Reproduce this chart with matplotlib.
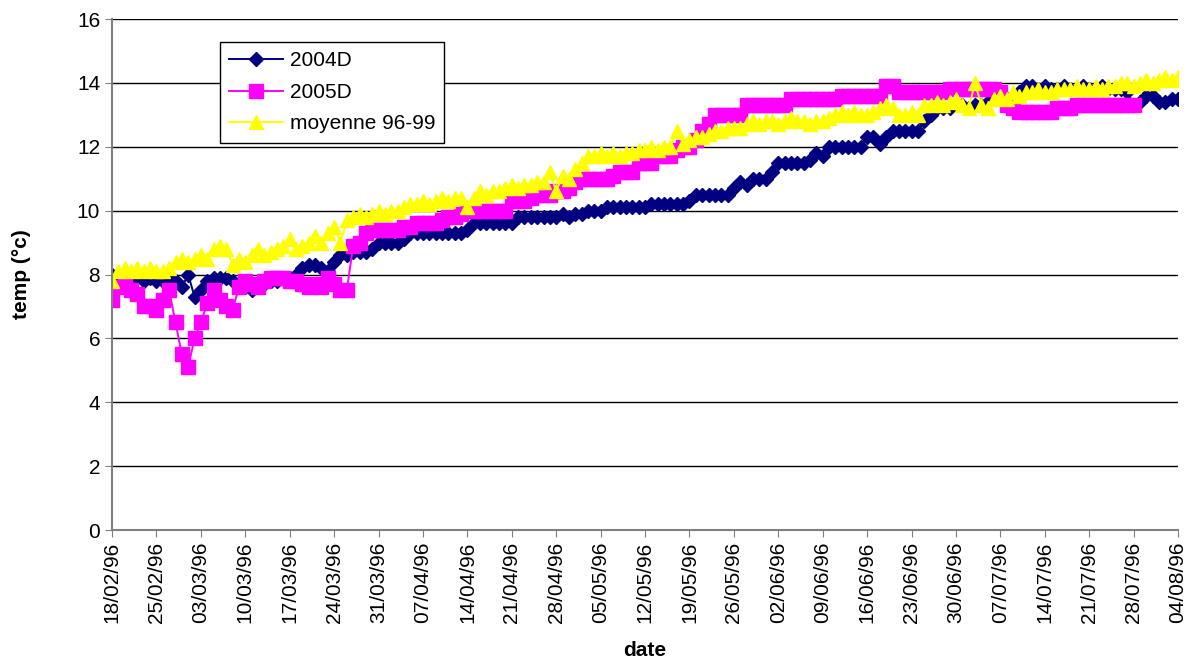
import numpy as np
import matplotlib
matplotlib.use('Agg')
from matplotlib import pyplot as plt
import matplotlib.dates as mdates

# daily water temperatures, starting 18/02/96
start = np.datetime64('1996-02-18')

t2004 = [8.0, 7.9, 7.9, 7.8, 7.9, 7.8, 7.9, 7.8, 7.8, 7.9, 7.8, 7.6, 8.0, 7.3, 7.5, 7.8,
         7.9, 7.9, 7.9, 7.8, 7.7, 7.6, 7.5, 7.6, 7.7, 7.8, 7.8, 7.9, 7.9, 8.0, 8.2, 8.3,
         8.3, 8.2, 8.1, 8.4, 8.6, 8.6, 8.7, 8.7, 8.7, 8.8, 9.0, 9.0, 9.0, 9.0, 9.1,
         9.3, 9.3, 9.3, 9.3, 9.3, 9.3, 9.3, 9.3, 9.3, 9.4,
         9.6, 9.6, 9.6, 9.6, 9.6, 9.6, 9.6,
         9.8, 9.8, 9.8, 9.8, 9.8, 9.8, 9.8, 9.9, 9.8, 9.9, 9.9, 10.0, 10.0, 10.0,
         10.1, 10.1, 10.1, 10.1, 10.1, 10.1, 10.1,
         10.2, 10.2, 10.2, 10.2, 10.2, 10.2, 10.3,
         10.5, 10.5, 10.5, 10.5, 10.5, 10.5, 10.7, 10.9, 10.8, 11.0, 11.0, 11.0, 11.2,
         11.5, 11.5, 11.5, 11.5, 11.5, 11.6, 11.8, 11.7,
         12.0, 12.0, 12.0, 12.0, 12.0, 12.0, 12.3, 12.3, 12.1, 12.3,
         12.5, 12.5, 12.5, 12.5, 12.5, 12.8, 13.0, 13.2,
         13.2, 13.2, 13.3, 13.3, 13.2, 13.3, 13.3, 13.4, 13.5, 13.5, 13.5, 13.6, 13.7,
         13.9, 13.9,
         13.8, 13.9, 13.8, 13.8, 13.9, 13.8, 13.8, 13.9, 13.8, 13.8, 13.9, 13.8, 13.8, 13.8,
         13.7, 13.3, 13.4, 13.6, 13.6, 13.4, 13.4, 13.5, 13.5]

t2005 = [7.2, 7.6, 7.7, 7.5, 7.4, 7.0, 7.0, 6.9, 7.2, 7.5, 6.5, 5.5, 5.1, 6.0, 6.5, 7.1,
         7.5, 7.2, 7.0, 6.9, 7.6, 7.8, 7.7, 7.6, 7.8, 7.9, 7.9, 7.9, 7.8, 7.8, 7.7, 7.6,
         7.7, 7.6, 7.9, 7.7, 7.5, 7.5,
         8.9, 9.0, 9.3, 9.4, 9.4, 9.4, 9.4, 9.4, 9.5, 9.5, 9.6, 9.6, 9.6, 9.6, 9.7, 9.8,
         9.8, 9.9, 10.0, 10.0, 10.0, 10.0, 10.0, 10.0, 10.0, 10.3, 10.3, 10.3, 10.4, 10.5,
         10.5, 10.5, 10.6, 10.6, 10.7, 10.9, 11.0, 11.0, 11.0, 11.0, 11.0, 11.1, 11.2, 11.2,
         11.2, 11.5, 11.5, 11.5, 11.7, 11.7, 11.7, 11.9, 12.0, 12.0, 12.2, 12.5, 12.7,
         13.0, 13.0, 13.0, 13.0, 13.0, 13.3, 13.3, 13.3, 13.3, 13.3, 13.3, 13.3,
         13.5, 13.5, 13.5, 13.5, 13.5, 13.5, 13.5, 13.5,
         13.6, 13.6, 13.6, 13.6, 13.6, 13.6, 13.6, 13.9, 13.9,
         13.7, 13.7, 13.7, 13.7, 13.7, 13.7, 13.7, 13.7,
         13.8, 13.8, 13.8, 13.8, 13.8, 13.8, 13.8, 13.8, 13.7, 13.3, 13.2,
         13.1, 13.1, 13.1, 13.1, 13.1, 13.1, 13.2, 13.2, 13.2,
         13.3, 13.3, 13.3, 13.3, 13.3, 13.3, 13.3, 13.3, 13.3, 13.3]

tmoy = [7.8, 8.1, 8.2, 8.1, 8.2, 8.1, 8.2, 8.1, 8.1, 8.2, 8.4, 8.5, 8.4, 8.5, 8.6, 8.5,
        8.8, 8.9, 8.8, 8.3, 8.5, 8.4, 8.6, 8.8, 8.6, 8.7, 8.8, 8.9, 9.1, 8.8, 8.9, 9.0,
        9.2, 9.0, 9.3, 9.5, 9.0, 9.7, 9.8, 9.9, 9.8, 9.9, 10.0, 9.9, 10.0, 10.0, 10.1,
        10.2, 10.2, 10.3, 10.2, 10.3, 10.4, 10.3, 10.4, 10.4, 10.1, 10.4, 10.6, 10.5,
        10.6, 10.6, 10.7, 10.8, 10.7, 10.8, 10.8, 10.9, 10.9, 11.2, 10.6, 11.1, 11.0,
        11.3, 11.5, 11.7, 11.7, 11.8, 11.7, 11.8, 11.7, 11.8, 11.8, 11.9, 11.9, 12.0,
        11.9, 12.0, 12.0, 12.5, 12.1, 12.2, 12.3, 12.3, 12.4, 12.5, 12.5, 12.6, 12.6,
        12.6, 12.7, 12.8, 12.7, 12.8, 12.8, 12.7, 12.8, 12.9, 12.8, 12.8, 12.7, 12.8,
        12.8, 12.9, 13.0, 13.1, 13.0, 13.1, 13.0, 13.0, 13.1, 13.2, 13.3, 13.2, 13.0,
        13.0, 13.1, 13.0, 13.3, 13.3, 13.4, 13.3, 13.4, 13.5, 13.3, 13.2, 14.0, 13.3,
        13.2, 13.5, 13.6, 13.5, 13.7, 13.6, 13.7, 13.7, 13.8, 13.7, 13.7, 13.8, 13.8,
        13.8, 13.9, 13.8, 13.8, 13.9, 13.8, 13.9, 13.9, 14.0, 14.0, 13.9, 14.0, 14.1,
        14.0, 14.1, 14.2, 14.1, 14.2]

def days(n):
    return (start + np.arange(n)).astype('datetime64[D]').astype(object)

plt.rcParams['font.family'] = ['Liberation Sans', 'DejaVu Sans']

fig = plt.figure(figsize=(11.92, 6.63), dpi=100)
ax = fig.add_axes([0.094, 0.2006, 0.8943, 0.7707])

ax.plot(days(len(t2004)), t2004, color='#000080', marker='D', markersize=7, lw=1.4, label='2004D')
ax.plot(days(len(t2005)), t2005, color='#FF00FF', marker='s', markersize=10, lw=1.4, label='2005D')
ax.plot(days(len(tmoy)), tmoy, color='#FFFF00', marker='^', markersize=10.5, lw=1.4,
        label='moyenne 96-99')

ax.set_ylim(0, 16)
ax.set_yticks(np.arange(0, 17, 2))
ax.set_xlim(start.astype(object), (start + 168).astype(object))
ax.xaxis.set_major_formatter(mdates.DateFormatter('%d/%m/%y'))
ticks = [(start + 7 * i).astype(object) for i in range(25)]
ax.set_xticks(ticks)
ax.tick_params(axis='x', labelrotation=90, labelsize=15, length=5, color='#808080')
ax.tick_params(axis='y', labelsize=15, length=5, color='#808080')

ax.grid(axis='y', color='black', lw=1)
ax.set_axisbelow(True)
for s in ['top', 'right']:
    ax.spines[s].set_visible(False)
for s in ['left', 'bottom']:
    ax.spines[s].set_color('#808080')
    ax.spines[s].set_linewidth(1.5)

ax.set_xlabel('date', fontsize=15, fontweight='bold', labelpad=13)
ax.set_ylabel('temp (°c)', fontsize=15, fontweight='bold', labelpad=33)

leg = ax.legend(loc='upper left', bbox_to_anchor=(0.101, 0.955), borderaxespad=0,
                fontsize=15, fancybox=False, framealpha=1, edgecolor='black',
                handlelength=2.6, labelspacing=0.6, handletextpad=0.3, borderpad=0.45)
leg.get_frame().set_linewidth(1)

fig.savefig('out.png', dpi=100)
